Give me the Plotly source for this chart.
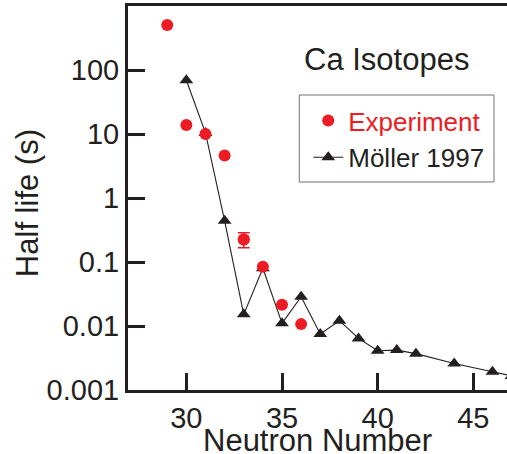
import plotly.graph_objects as go

# Experimental half-lives (s) for Ca isotopes
exp_n = [29, 30, 31, 32, 33, 34, 35, 36]
exp_t = [505, 13.8, 10.0, 4.6, 0.225, 0.084, 0.0215, 0.0107]
exp_err_plus = [None, None, None, None, 0.062, None, None, None]
exp_err_minus = [None, None, None, None, 0.058, None, None, None]

# Möller 1997 predictions
mol_n = [30, 31, 32, 33, 34, 35, 36, 37, 38, 39, 40, 41, 42, 44, 46, 47]
mol_t = [69, 10.4, 0.44, 0.0152, 0.080, 0.011, 0.0287, 0.0075, 0.0121,
         0.0064, 0.0041, 0.0042, 0.0037, 0.0026, 0.00193, 0.00166]

y_tickvals = [0.001, 0.01, 0.1, 1, 10, 100]
y_ticktext = ["0.001", "0.01", "0.1", "1", "10", "100"]
x_tickvals = [30, 35, 40, 45]

RED = "#ED1C24"
INK = "#231F20"
FONT = "Liberation Sans, Arial, Helvetica, sans-serif"

fig = go.Figure()

fig.add_trace(go.Scatter(
    x=mol_n, y=mol_t, mode="lines+markers", name="Möller 1997",
    line=dict(color=INK, width=1.1),
    marker=dict(symbol="triangle-up", size=12, color=INK),
    legendrank=2,
))

fig.add_trace(go.Scatter(
    x=exp_n, y=exp_t, mode="markers",
    name="<span style='color:%s'>Experiment</span>" % RED,
    marker=dict(symbol="circle", size=12, color=RED),
    legendrank=1,
))

# error bar points (only where an error is given)
eb_idx = [i for i, v in enumerate(exp_err_plus) if v is not None]
fig.add_trace(go.Scatter(
    x=[exp_n[i] for i in eb_idx], y=[exp_t[i] for i in eb_idx],
    mode="markers", showlegend=False,
    marker=dict(symbol="circle", size=12, color=RED),
    error_y=dict(type="data", symmetric=False,
                 array=[exp_err_plus[i] for i in eb_idx],
                 arrayminus=[exp_err_minus[i] for i in eb_idx],
                 color=RED, thickness=1.5, width=6),
))

fig.update_layout(
    width=507, height=454,
    margin=dict(l=127.5, r=0, t=6, b=64, autoexpand=False),
    paper_bgcolor="white", plot_bgcolor="white",
    font=dict(family=FONT, color=INK, size=29),
    showlegend=True,
    legend=dict(
        x=0.4756, y=0.763, xanchor="left", yanchor="top",
        bgcolor="rgba(0,0,0,0)", borderwidth=0,
        font=dict(size=26, color=INK, family=FONT),
    ),
    shapes=[dict(
        type="rect", xref="paper", yref="paper",
        x0=0.4519, x1=0.9657, y0=0.5417, y1=0.7682,
        line=dict(color="#707070", width=1), fillcolor="white", layer="below",
    )],
    annotations=[
        dict(text="Ca Isotopes", x=0.682, y=0.861, xref="paper", yref="paper",
             showarrow=False, font=dict(size=31, color=INK, family=FONT),
             xanchor="center", yanchor="middle"),
        # axis titles
        dict(text="Neutron Number", x=0.5, y=-0.1328, xref="paper", yref="paper",
             showarrow=False, font=dict(size=31, color=INK, family=FONT),
             xanchor="center", yanchor="middle"),
        dict(text="Half life (s)", x=-0.2648, y=0.4857, xref="paper", yref="paper",
             showarrow=False, textangle=-90,
             font=dict(size=31, color=INK, family=FONT),
             xanchor="center", yanchor="middle"),
    ],
)

fig.update_xaxes(
    range=[26.95, 46.76], tickvals=x_tickvals,
    ticks="inside", ticklen=17, tickwidth=3, tickcolor=INK,
    showline=True, linewidth=3, linecolor=INK, mirror=True,
    showgrid=False, zeroline=False, automargin=False,
    tickfont=dict(size=29),
)
fig.update_yaxes(
    type="log", range=[-3, 3], tickvals=y_tickvals, ticktext=y_ticktext,
    ticks="inside", ticklen=17, tickwidth=3, tickcolor=INK,
    showline=True, linewidth=3, linecolor=INK,
    showgrid=False, zeroline=False, automargin=False,
    tickfont=dict(size=29),
)

fig.write_html("out.html")
